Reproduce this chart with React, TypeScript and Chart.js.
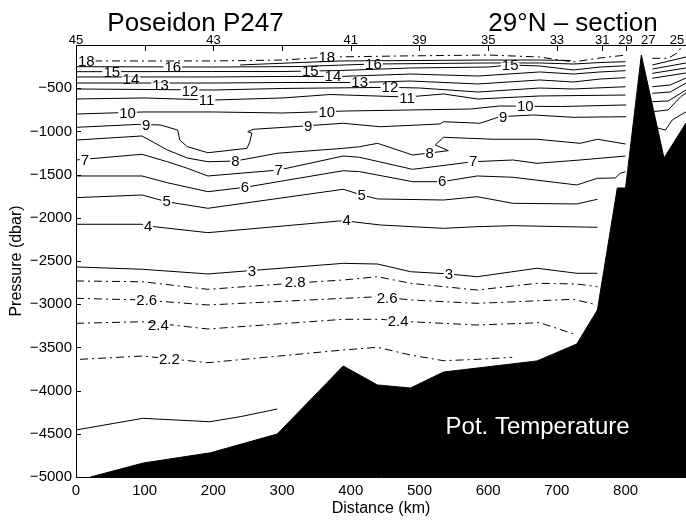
import React, { useEffect, useRef } from 'react';
import { Chart, registerables } from 'chart.js';

Chart.register(...registerables);

type Pt = [number, number] | null;

const FONT = '"Liberation Sans", Arial, Helvetica, sans-serif';

// ---- axes ----
const xTicksBottom = [0, 100, 200, 300, 400, 500, 600, 700, 800];
const yTicks = [-500, -1000, -1500, -2000, -2500, -3000, -3500, -4000, -4500, -5000];
const stationKm = [0, 100, 200, 300, 400, 500, 600, 700, 766, 800, 833, 875];
const stationLabels = ['45', '', '43', '', '41', '39', '35', '33', '31', '29', '27', '25'];
const stationHasTick = [true, true, true, true, true, true, true, true, true, true, false, false];

// ---- contour lines (distance km, pressure dbar); null = break ----
const c18: Pt[] = [[0, -185], [199, -185], [301, -174], [370, -139], [472, -127], [600, -116], [675, -139], [724, -197], [763, -150], [801, -116], null, [839, -154], [862, -154], [876, -89], [880, -38]];
const c17: Pt[] = [[239, -231], [326, -203], [385, -185], [501, -179], [600, -174], [675, -174], [720, -179]];
const c16: Pt[] = [[0, -251], [199, -255], [326, -249], [433, -220], [600, -208], [675, -208], [724, -220], [763, -203], [800, -193], null, [839, -231], [888, -139]];
const c15: Pt[] = [[0, -309], [199, -307], [301, -307], [385, -295], [487, -266], [600, -255], [632, -231], [675, -243], [724, -289], [763, -255], [800, -240], null, [839, -278], [888, -208]];
const c14: Pt[] = [[0, -370], [199, -370], [301, -364], [385, -364], [487, -336], [585, -359], [675, -312], [724, -336], [763, -312], [800, -297], null, [839, -328], [888, -266]];
const c13: Pt[] = [[0, -440], [199, -440], [301, -434], [413, -434], [487, -417], [585, -451], [675, -405], [724, -428], [763, -394], [800, -378], null, [839, -385], [888, -324]];
const c12: Pt[] = [[0, -509], [199, -521], [301, -503], [457, -490], [501, -498], [585, -544], [675, -498], [724, -509], [800, -483], null, [839, -483], [865, -463], [888, -382]];
const c11: Pt[] = [[0, -625], [99, -613], [199, -637], [301, -613], [370, -573], [482, -602], [535, -567], [585, -625], [675, -590], [800, -579], null, [839, -559], [865, -544], [888, -440]];
const c10: Pt[] = [[0, -799], [99, -775], [199, -775], [301, -787], [392, -764], [487, -752], [574, -741], [617, -706], [705, -712], [801, -694], null, [839, -656], [862, -648], [888, -521]];
const c9: Pt[] = [[0, -953], [93, -918], [123, -926], [148, -984], [151, -1100], [162, -1177], [192, -1247], [249, -1196], [253, -1119], [256, -1019], [250, -1003], [258, -976], [316, -946], [389, -906], [443, -946], [530, -914], [535, -888], [588, -906], [617, -830], [666, -810], [724, -837], [801, -830], null, [839, -772], [862, -752], [880, -602], [888, -556]];
const c8: Pt[] = [[0, -1100], [96, -1053], [133, -1215], [162, -1308], [192, -1351], [232, -1343], [293, -1253], [389, -1196], [413, -1177], [439, -1138], [490, -1273], [515, -1250], [542, -1223], [523, -1157], [535, -1068], [608, -1091], [671, -1091], [734, -1138], [759, -1091], [800, -1146], null, [839, -946], [858, -984], [868, -868], [880, -810], [888, -775]];
const c7: Pt[] = [[0, -1331], [96, -1265], [133, -1351], [162, -1427], [192, -1516], [295, -1447], [389, -1285], [413, -1300], [490, -1439], [578, -1351], [636, -1331], [671, -1369], [734, -1331], [800, -1285]];
const c6: Pt[] = [[0, -1516], [96, -1516], [133, -1594], [192, -1698], [246, -1647], [389, -1455], [413, -1466], [490, -1582], [533, -1582], [584, -1516], [636, -1531], [729, -1620], [759, -1543], [785, -1539], [792, -1485], [800, -1466]];
const c5: Pt[] = [[0, -1767], [96, -1736], [132, -1814], [192, -1890], [389, -1670], [416, -1736], [439, -1782], [535, -1794], [584, -1756], [636, -1832], [729, -1840], [759, -1786]];
const c4: Pt[] = [[0, -2075], [96, -2075], [105, -2095], [192, -2172], [389, -2033], [443, -2083], [535, -2122], [584, -2103], [636, -2091], [759, -2110]];
const c3: Pt[] = [[0, -2569], [97, -2596], [192, -2650], [389, -2527], [439, -2535], [487, -2624], [543, -2650], [584, -2682], [671, -2584], [729, -2642], [759, -2642]];
const c28: Pt[] = [[0, -2731], [97, -2740], [192, -2828], [319, -2755], [389, -2720], [439, -2682], [487, -2758], [584, -2836], [671, -2758], [729, -2766], [759, -2797]];
const c26: Pt[] = [[0, -2932], [97, -2951], [192, -3009], [389, -2932], [443, -2913], [487, -2951], [584, -2990], [724, -2943], [753, -2998]];
const c24: Pt[] = [[0, -3221], [97, -3203], [192, -3287], [389, -3175], [443, -3175], [487, -3203], [584, -3241], [675, -3214], [729, -3356]];
const c22: Pt[] = [[6, -3638], [97, -3600], [192, -3677], [389, -3530], [439, -3499], [487, -3588], [535, -3654], [584, -3638], [635, -3615]];
const c20: Pt[] = [[0, -4456], [97, -4321], [195, -4360], [239, -4302], [293, -4213]];

// ---- sea floor ----
const bottomKm = [21, 98, 196, 293, 389, 439, 487, 535, 671, 729, 759, 788, 800, 823, 856, 888];
const bottomDbar = [-5000, -4838, -4719, -4502, -3715, -3935, -3970, -3785, -3657, -3461, -3067, -1655, -1655, -116, -1308, -903];

// ---- contour labels [text, km, dbar] ----
const contourLabels: [string, number, number][] = [
  ['18', 15, -185], ['18', 365, -139],
  ['16', 141, -255], ['16', 433, -220],
  ['15', 52, -312], ['15', 341, -309], ['15', 632, -231],
  ['14', 80, -394], ['14', 374, -367],
  ['13', 123, -463], ['13', 413, -436],
  ['12', 166, -532], ['12', 457, -490],
  ['11', 190, -637], ['11', 482, -613],
  ['10', 75, -787], ['10', 365, -775], ['10', 654, -706],
  ['9', 102, -926], ['9', 338, -938], ['9', 622, -833],
  ['8', 232, -1343], ['8', 515, -1250],
  ['7', 13, -1331], ['7', 295, -1447], ['7', 578, -1351],
  ['6', 246, -1647], ['6', 533, -1582],
  ['5', 132, -1814], ['5', 416, -1736],
  ['4', 105, -2095], ['4', 394, -2025],
  ['3', 256, -2624], ['3', 543, -2654],
  ['2.8', 319, -2751],
  ['2.6', 103, -2959], ['2.6', 453, -2932],
  ['2.4', 120, -3249], ['2.4', 469, -3203],
  ['2.2', 136, -3638],
];

const contours: { pts: Pt[]; dashed: boolean }[] = [
  { pts: c18, dashed: true }, { pts: c17, dashed: false }, { pts: c16, dashed: false },
  { pts: c15, dashed: false }, { pts: c14, dashed: false }, { pts: c13, dashed: false },
  { pts: c12, dashed: false }, { pts: c11, dashed: false }, { pts: c10, dashed: false },
  { pts: c9, dashed: false }, { pts: c8, dashed: false }, { pts: c7, dashed: false },
  { pts: c6, dashed: false }, { pts: c5, dashed: false }, { pts: c4, dashed: false },
  { pts: c3, dashed: false }, { pts: c28, dashed: true }, { pts: c26, dashed: true },
  { pts: c24, dashed: true }, { pts: c22, dashed: true }, { pts: c20, dashed: false },
];

function toXY(pts: Pt[]) {
  const out: { x: number; y: number | null }[] = [];
  let lastX = 0;
  for (const p of pts) {
    if (p === null) out.push({ x: lastX, y: null });
    else { out.push({ x: p[0], y: p[1] }); lastX = p[0]; }
  }
  return out;
}

const decorPlugin = {
  id: 'decor',
  afterDatasetsDraw(chart: any) {
    const { ctx } = chart;
    const xs = chart.scales.x, ys = chart.scales.y;
    ctx.save();
    ctx.font = `15px ${FONT}`;
    ctx.textAlign = 'center';
    ctx.textBaseline = 'middle';
    for (const [t, kx, py] of contourLabels) {
      const px = xs.getPixelForValue(kx);
      const pyy = ys.getPixelForValue(py);
      const w = ctx.measureText(t).width;
      ctx.fillStyle = '#fff';
      ctx.fillRect(px - w / 2 - 1, pyy - 2.5, w + 2, 5);
      ctx.fillStyle = '#000';
      ctx.fillText(t, px, pyy + 0.5);
    }
    ctx.restore();
  },
  afterDraw(chart: any) {
    const { ctx, chartArea } = chart;
    const xs = chart.scales.x, ys = chart.scales.y, xt = chart.scales.xTop;
    ctx.save();
    ctx.strokeStyle = '#000';
    ctx.lineWidth = 1;
    ctx.beginPath();
    for (const v of yTicks) {
      const py = Math.round(ys.getPixelForValue(v)) + 0.5;
      ctx.moveTo(chartArea.left, py);
      ctx.lineTo(chartArea.left + 5, py);
    }
    stationKm.forEach((v, i) => {
      if (!stationHasTick[i]) return;
      const px = Math.round(xt.getPixelForValue(v)) + 0.5;
      ctx.moveTo(px, chartArea.top);
      ctx.lineTo(px, chartArea.top + 6);
    });
    for (const v of xTicksBottom) {
      const px = Math.round(xs.getPixelForValue(v)) + 0.5;
      ctx.moveTo(px, chartArea.bottom);
      ctx.lineTo(px, chartArea.bottom - 5);
    }
    ctx.stroke();

    // white annotation inside the sea floor
    ctx.fillStyle = '#fff';
    ctx.font = `24px ${FONT}`;
    ctx.textAlign = 'center';
    ctx.textBaseline = 'alphabetic';
    ctx.fillText('Pot. Temperature', xs.getPixelForValue(672), ys.getPixelForValue(-4502));

    // titles
    ctx.fillStyle = '#000';
    ctx.font = `26px ${FONT}`;
    ctx.fillText('Poseidon P247', 195.5, 31);
    ctx.fillText('29°N \u2013 section', 573, 31);
    ctx.restore();
  },
};

export default function App() {
  const ref = useRef<HTMLCanvasElement | null>(null);
  useEffect(() => {
    if (!ref.current) return;
    const datasets: any[] = contours.map((c) => ({
      data: toXY(c.pts),
      borderColor: '#000',
      borderWidth: 1,
      borderDash: c.dashed ? [8, 4, 2, 4] : [],
      pointRadius: 0,
      fill: false,
      tension: 0,
      spanGaps: false,
      order: 2,
    }));
    datasets.push({
      data: bottomKm.map((k, i) => ({ x: k, y: bottomDbar[i] })),
      borderColor: '#000',
      backgroundColor: '#000',
      borderWidth: 1,
      pointRadius: 0,
      fill: 'start',
      tension: 0,
      order: 1,
    });
    const chart = new Chart(ref.current, {
      type: 'line',
      data: { datasets },
      plugins: [decorPlugin],
      options: {
        responsive: false,
        animation: false,
        devicePixelRatio: 1,
        events: [],
        layout: { padding: 0 },
        plugins: { legend: { display: false }, tooltip: { enabled: false }, title: { display: false } },
        scales: {
          x: {
            type: 'linear',
            position: 'bottom',
            min: 0,
            max: 888,
            afterBuildTicks: (s: any) => { s.ticks = xTicksBottom.map((v) => ({ value: v })); },
            afterFit: (s: any) => { s.height = 45; },
            ticks: { font: { family: FONT, size: 15 }, color: '#000', padding: 5, autoSkip: false, maxRotation: 0, callback: (v: any) => String(v) },
            grid: { display: false, drawTicks: false },
            border: { display: true, color: '#000', width: 1 },
            title: { display: true, text: 'Distance (km)', color: '#000', font: { family: FONT, size: 16 }, padding: { top: 0, bottom: 4 } },
          },
          xTop: {
            type: 'linear',
            position: 'top',
            min: 0,
            max: 888,
            afterBuildTicks: (s: any) => { s.ticks = stationKm.map((v) => ({ value: v })); },
            afterFit: (s: any) => { s.height = 45; },
            ticks: { font: { family: FONT, size: 13 }, color: '#000', padding: -3, autoSkip: false, maxRotation: 0, callback: (_v: any, i: number) => stationLabels[i] },
            grid: { display: false, drawTicks: false },
            border: { display: true, color: '#000', width: 1 },
          },
          y: {
            type: 'linear',
            position: 'left',
            min: -5000,
            max: 0,
            afterBuildTicks: (s: any) => { s.ticks = yTicks.map((v) => ({ value: v })); },
            afterFit: (s: any) => { s.width = 76; },
            ticks: { font: { family: FONT, size: 15 }, color: '#000', padding: 4, autoSkip: false, callback: (v: any) => '\u2212' + Math.abs(Number(v)) },
            grid: { display: false, drawTicks: false },
            border: { display: true, color: '#000', width: 1 },
            title: { display: true, text: 'Pressure (dbar)', color: '#000', font: { family: FONT, size: 16 }, padding: { top: 7, bottom: 0 } },
          },
        },
      } as any,
    });
    return () => chart.destroy();
  }, []);
  return (
    <div style={{ position: 'fixed', left: 0, top: 0, width: 686, height: 522, background: '#fff' }}>
      <canvas ref={ref} width={686} height={522} style={{ width: 686, height: 522, display: 'block' }} />
    </div>
  );
}
